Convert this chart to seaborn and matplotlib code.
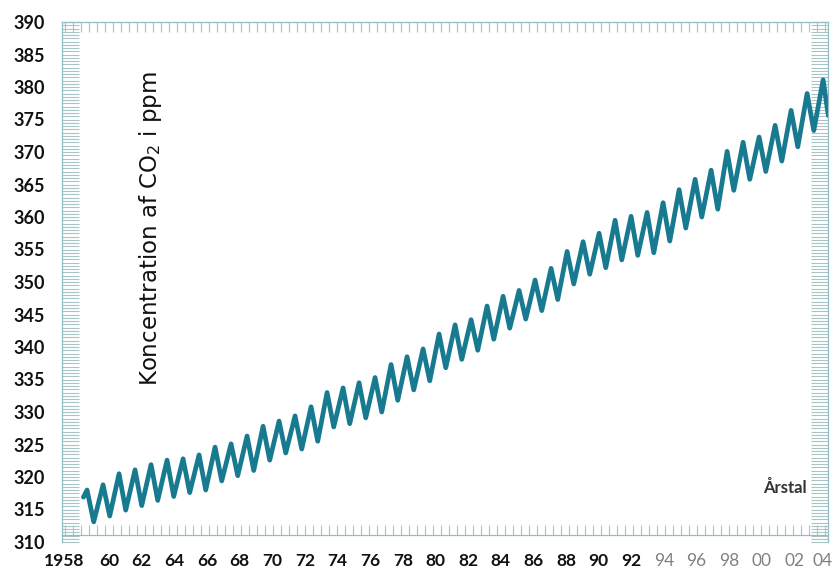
import numpy as np
import pandas as pd
import matplotlib
matplotlib.use("Agg")
import matplotlib.pyplot as plt
from matplotlib.ticker import MultipleLocator, FixedLocator
import seaborn as sns

# ---------------- data ----------------
years = list(range(1958, 2005))
peak_ppm = [318.0, 318.8, 320.5, 321.1, 321.9, 322.6, 322.8, 323.4, 324.6, 325.1,
            326.3, 327.8, 328.6, 329.4, 330.8, 333.0, 333.7, 334.5, 335.3, 337.3,
            338.5, 339.7, 342.0, 343.4, 344.2, 346.3, 347.8, 348.7, 350.3, 352.1,
            354.7, 356.2, 357.5, 359.5, 360.1, 360.7, 362.2, 364.2, 365.8, 367.2,
            370.1, 371.5, 372.3, 374.1, 376.4, 379.0, 381.1]
trough_ppm = [313.1, 314.0, 314.9, 315.6, 316.4, 317.0, 317.6, 318.0, 319.4, 320.2,
              321.0, 322.6, 323.7, 324.3, 325.5, 327.7, 328.2, 329.1, 330.0, 331.8,
              333.4, 334.8, 336.8, 338.1, 339.5, 341.2, 342.9, 344.3, 345.6, 347.3,
              349.7, 351.2, 352.2, 353.4, 354.1, 354.5, 356.3, 358.3, 360.0, 361.2,
              364.1, 365.8, 367.0, 368.6, 370.8, 373.3]
start_time, start_ppm = 1958.15, 316.9
end_time, end_ppm = 2004.70, 375.6
PEAK_MONTH = 5      # May
TROUGH_MONTH = 10   # October

y_ticks = list(range(310, 391, 5))
x_tick_years = list(range(1958, 2005, 2))
x_tick_labels = ["1958"] + [f"{y % 100:02d}" for y in x_tick_years[1:]]

# ---------------- build series ----------------
t, v = [start_time], [start_ppm]
for i, yr in enumerate(years):
    t.append(yr + (PEAK_MONTH - 0.5) / 12)
    v.append(peak_ppm[i])
    if i < len(trough_ppm):
        t.append(yr + (TROUGH_MONTH - 0.5) / 12)
        v.append(trough_ppm[i])
t.append(end_time)
v.append(end_ppm)
df = pd.DataFrame({"time": t, "co2": v})

# ---------------- style ----------------
sns.set_theme(style="white")
plt.rcParams["font.family"] = ["Lato", "DejaVu Sans"]
plt.rcParams["mathtext.fontset"] = "dejavusans"

W, H = 834, 574
fig = plt.figure(figsize=(W / 100, H / 100), dpi=100)
fig.patch.set_facecolor("white")
ax = fig.add_axes([62 / W, 32 / H, 766 / W, 520 / H])
ax.set_facecolor("white")

line_color = "#187a91"
sns.lineplot(data=df, x="time", y="co2", ax=ax, color=line_color,
             linewidth=3.4, estimator=None, sort=False)

x_left, x_right = 1956.81, 2004.68
ax.set_xlim(x_left, x_right)
ax.set_ylim(310, 390)
ax.set_xlabel("")
ax.set_ylabel("")

frame_col = "#93bdc4"
for s in ax.spines.values():
    s.set_visible(True)
    s.set_color(frame_col)
    s.set_linewidth(0.9)
ax.spines["bottom"].set_position(("data", 311.1))

# y axis
ax.yaxis.set_major_locator(FixedLocator(y_ticks))
ax.set_yticklabels([str(y) for y in y_ticks])
ax.yaxis.set_minor_locator(MultipleLocator(0.5))
ax.tick_params(axis="y", which="both", direction="in", length=12.5, width=0.8,
               color="#a9c3c7", left=True, right=True)
ax.tick_params(axis="y", which="major", pad=12, labelsize=13)
for lab in ax.get_yticklabels():
    lab.set_fontweight("bold")
    lab.set_color("#111111")

# x axis (labels placed slightly apart from the data scale as in the original)
tick_pos = [1959.75 + (yr - 1960) * 1.02 for yr in x_tick_years]
tick_pos[0] -= 0.75
tick_pos[-1] -= 0.3
ax.xaxis.set_major_locator(FixedLocator(tick_pos))
ax.set_xticklabels(x_tick_labels)
ax.xaxis.set_minor_locator(MultipleLocator(0.5))
ax.tick_params(axis="x", which="minor", direction="in", length=7, width=0.8,
               color="#a9c3c7", bottom=True, top=True)
ax.tick_params(axis="x", which="major", length=0, pad=13, labelsize=12.5,
               bottom=True, top=False)
for yr, lab in zip(x_tick_years, ax.get_xticklabels()):
    if yr <= 1992:
        lab.set_fontweight("bold")
        lab.set_color("#111111")
    else:
        lab.set_fontweight("normal")
        lab.set_color("#808080")

ax.grid(False)

ax.text((150 - 62) / 766, (542 - 229) / 520, "Koncentration af CO$_2$ i ppm",
        transform=ax.transAxes, rotation=90, ha="center", va="center",
        fontsize=16.5, color="#111111", family=["DejaVu Sans"])
ax.text((785 - 62) / 766, (542 - 488) / 520, "Årstal", transform=ax.transAxes,
        ha="center", va="center", fontsize=12, fontweight="bold", color="#333333")

fig.savefig("out.png", dpi=100, facecolor="white")
